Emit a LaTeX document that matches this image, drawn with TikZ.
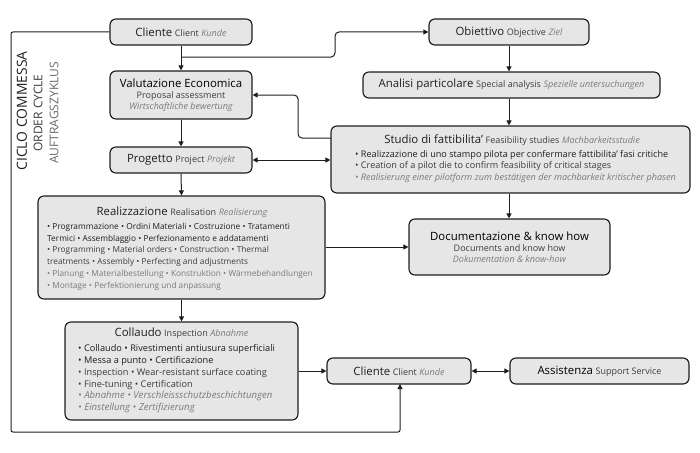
\documentclass[tikz,border=0pt]{standalone}
\usepackage{fontspec}
\setmainfont{Open Sans}
\usetikzlibrary{arrows.meta,calc}
\definecolor{boxfill}{HTML}{E6E6E6}
\definecolor{ink}{HTML}{1E1E1E}
\definecolor{en}{HTML}{3C3C3C}
\definecolor{de}{HTML}{7A7A7A}
\newcommand\hdsz{\fontsize{11.4}{13}\selectfont}
\newcommand\subsz{\fontsize{9}{11}\selectfont}
\newcommand\bodysz{\fontsize{8.3}{11.7}\selectfont}
\newcommand\stusz{\fontsize{9.1}{11.6}\selectfont}
\newcommand\colsz{\fontsize{9.2}{11.8}\selectfont}
\newcommand\hdline[3]{{\hdsz\color{ink}#1} {\subsz\color{en}#2} {\subsz\color{de}\itshape #3}}
\begin{document}
\begin{tikzpicture}[x=1pt,y=-1pt,
  box/.style={draw=ink, line width=1.15pt, fill=boxfill, rounded corners=6pt, inner sep=0pt},
  conn/.style={draw=ink, line width=1pt, -{Triangle[length=5pt,width=5pt]}},
  dconn/.style={draw=ink, line width=1pt, {Triangle[length=5pt,width=5pt]}-{Triangle[length=5pt,width=5pt]}},
  txt/.style={inner sep=0pt, text=ink}]
\useasboundingbox (0,0) rectangle (700,452);
% boxes
\node[box, minimum width=142pt, minimum height=26pt] (cl1) at (181,32) {\hdline{Cliente}{Client}{Kunde}};
\node[box, minimum width=160pt, minimum height=26pt] (obj) at (509,32) {\hdline{Obiettivo}{Objective}{Ziel}};
\node[box, minimum width=142pt, minimum height=48pt, align=center] (val) at (181,95)
  {{\hdsz Valutazione Economica}\\[-1pt]{\subsz\color{en}Proposal assessment}\\[-1pt]{\subsz\color{de}\itshape Wirtschaftliche bewertung}};
\node[box, minimum width=297pt, minimum height=26pt] (ana) at (511.5,85) {\hdline{Analisi particolare}{Special analysis}{Spezielle untersuchungen}};
\node[box, minimum width=359pt, minimum height=67pt] (stu) at (510.5,159.5) {};
\node[box, minimum width=142pt, minimum height=26pt] (pro) at (181,160) {\hdline{Progetto}{Project}{Projekt}};
\node[box, minimum width=287pt, minimum height=103pt] (rea) at (181.5,247.5) {};
\node[box, minimum width=201pt, minimum height=56pt, align=center] (doc) at (509.5,247)
  {{\hdsz Documentazione \& know how}\\[-1pt]{\subsz\color{en}Documents and know how}\\[-1pt]{\subsz\color{de}\itshape Dokumentation \& know-how}};
\node[box, minimum width=233pt, minimum height=98pt] (col) at (181.5,371) {};
\node[box, minimum width=144pt, minimum height=26pt] (cl2) at (399,371) {\hdline{Cliente}{Client}{Kunde}};
\node[box, minimum width=179pt, minimum height=26pt] (ass) at (599.5,371) {{\hdsz Assistenza} {\subsz\color{en}Support Service}};
% texts inside large boxes
\node[txt] (stuh) at (512,140) {\hdline{Studio di fattibilita’}{Feasibility studies}{Machbarkeitsstudie}};
\node[txt, anchor=north west, align=left, font=\stusz] (stub) at (355,150)
  {• Realizzazione di uno stampo pilota per confermare fattibilita’ fasi critiche\\
   {\color{en}• Creation of a pilot die to confirm feasibility of critical stages}\\
   {\color{de}\itshape • Realisierung einer pilotform zum bestätigen der machbarkeit kritischer phasen}};
\node[txt] (reah) at (182,212) {\hdline{Realizzazione}{Realisation}{Realisierung}};
\node[txt, anchor=north west, align=left, font=\bodysz] (reab) at (47,223)
  {• Programmazione • Ordini Materiali • Costruzione • Tratamenti\\
   Termici • Assemblaggio • Perfezionamento e addatamenti\\
   {\color{en}• Programming • Material orders • Construction • Thermal}\\
   {\color{en}treatments • Assembly • Perfecting and adjustments}\\
   {\color{de}• Planung • Materialbestellung • Konstruktion • Wärmebehandlungen}\\
   {\color{de}• Montage • Perfektionierung und anpassung}};
\node[txt] (colh) at (181.5,333) {\hdline{Collaudo}{Inspection}{Abnahme}};
\node[txt, anchor=north west, align=left, font=\colsz] (colb) at (78,344.5)
  {• Collaudo • Rivestimenti antiusura superficiali\\
   • Messa a punto • Certificazione\\
   {\color{en}• Inspection • Wear-resistant surface coating}\\
   {\color{en}• Fine-tuning • Certification}\\
   {\color{de}\itshape\fontsize{9.6}{11.8}\selectfont • Abnahme • Verschleissschutzbeschichtungen}\\
   {\color{de}\itshape\fontsize{9.6}{11.8}\selectfont • Einstellung • Zertifizierung}};
% vertical labels
\node[txt, rotate=90, font=\fontsize{13.9}{15}\selectfont] (v1) at (22,111) {CICLO COMMESSA};
\node[txt, rotate=90, font=\fontsize{12}{14}\selectfont, text=en] (v2) at (38,113) {ORDER CYCLE};
\node[txt, rotate=90, font=\fontsize{12}{14}\selectfont, text=de!85!black] (v3) at (54,113) {AUFTRAGSZYKLUS};
% connectors
\coordinate (br) at (181,57);
\coordinate (sv) at (331,138);
\draw[conn] (cl1.south) -- (val.north);
\draw[conn, rounded corners=4pt] (br) -- (335,57) -- (335,32) -- (obj.west);
\draw[conn] (obj.south) -- (obj.south |- ana.north);
\draw[conn] (obj.south |- ana.south) -- (obj.south |- stu.north);
\draw[conn] (obj.south |- stu.south) -- (obj.south |- doc.north);
\draw[conn, rounded corners=4pt] (sv) -- (298,138) -- (298,95) -- (val.east);
\draw[conn] (val.south) -- (pro.north);
\draw[dconn] (pro.east) -- (pro.east -| stu.west);
\draw[conn] (pro.south) -- (rea.north);
\draw[conn] (doc.west -| rea.east) -- (doc.west);
\draw[conn] (rea.south) -- (col.north);
\draw[conn] (col.east) -- (cl2.west);
\draw[dconn] (cl2.east) -- (ass.west);
\draw[conn, rounded corners=2pt] (cl1.west) -- (11,32) -- (11,432) -- (400,432) -- (400,384);
\end{tikzpicture}
\end{document}
